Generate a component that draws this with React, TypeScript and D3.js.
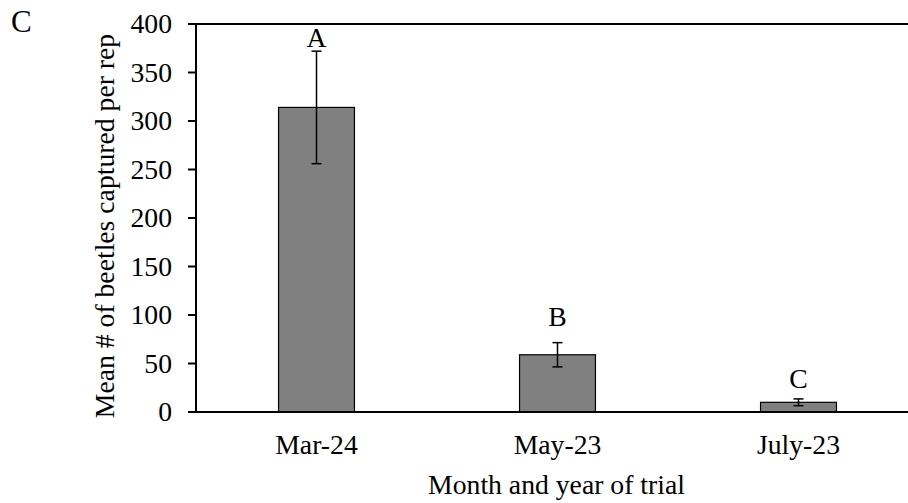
import React from "react";
import * as d3 from "d3";

const categories = ["Mar-24", "May-23", "July-23"];
const means = [314, 59, 10];
const errors = [58, 12.5, 3.5];
const letters = ["A", "B", "C"];
const letterValues = [376, 88.5, 24.5];
const yTicks = [0, 50, 100, 150, 200, 250, 300, 350, 400];

const W = 908;
const H = 503;
const margin = { left: 196, right: -11, top: 24, bottom: 91 };
const FONT = "'Liberation Serif', 'Times New Roman', serif";

export default function App() {
  const x = d3
    .scaleBand<string>()
    .domain(categories)
    .range([margin.left, W - margin.right])
    .paddingInner(0.685)
    .paddingOuter(0.3425);
  const y = d3.scaleLinear().domain([0, 400]).range([H - margin.bottom, margin.top]);
  const bw = x.bandwidth();
  const fs = 27.7;

  return (
    <svg
      width={W}
      height={H}
      style={{ position: "absolute", left: 0, top: 0, background: "#fff" }}
      fontFamily={FONT}
    >
      <text x={11} y={32} fontSize={31}>C</text>
      {/* bars */}
      {categories.map((c, i) => (
        <rect
          key={c}
          x={x(c)}
          y={y(means[i])}
          width={bw}
          height={y(0) - y(means[i])}
          fill="#808080"
          stroke="#000"
          strokeWidth={1.2}
        />
      ))}
      {/* error bars */}
      {categories.map((c, i) => {
        const cx = (x(c) as number) + bw / 2;
        const t = y(means[i] + errors[i]);
        const b = y(means[i] - errors[i]);
        return (
          <g key={"e" + c} stroke="#000" strokeWidth={1.5}>
            <line x1={cx} x2={cx} y1={t} y2={b} />
            <line x1={cx - 5} x2={cx + 5} y1={t} y2={t} />
            <line x1={cx - 5} x2={cx + 5} y1={b} y2={b} />
          </g>
        );
      })}
      {/* letters */}
      {categories.map((c, i) => (
        <text
          key={"l" + c}
          x={(x(c) as number) + bw / 2}
          y={y(letterValues[i])}
          textAnchor="middle"
          fontSize={fs}
        >
          {letters[i]}
        </text>
      ))}
      {/* axes */}
      <line x1={margin.left - 8} x2={W} y1={y(400)} y2={y(400)} stroke="#000" strokeWidth={2} />
      <line x1={margin.left} x2={margin.left} y1={y(400) - 1} y2={y(0) + 1} stroke="#000" strokeWidth={2} />
      <line x1={margin.left - 8} x2={W} y1={y(0)} y2={y(0)} stroke="#000" strokeWidth={2.2} />
      {yTicks.map((t) => (
        <g key={"t" + t}>
          <line x1={margin.left - 8} x2={margin.left} y1={y(t)} y2={y(t)} stroke="#000" strokeWidth={2} />
          <text x={172} y={y(t)} dy="0.34em" textAnchor="end" fontSize={fs}>
            {t}
          </text>
        </g>
      ))}
      {categories.map((c) => (
        <text key={"x" + c} x={(x(c) as number) + bw / 2} y={454} textAnchor="middle" fontSize={fs}>
          {c}
        </text>
      ))}
      <text x={556.5} y={494} textAnchor="middle" fontSize={fs}>
        Month and year of trial
      </text>
      <text
        transform={`translate(113.5, 226) rotate(-90)`}
        textAnchor="middle"
        fontSize={fs}
      >
        Mean # of beetles captured per rep
      </text>
    </svg>
  );
}
